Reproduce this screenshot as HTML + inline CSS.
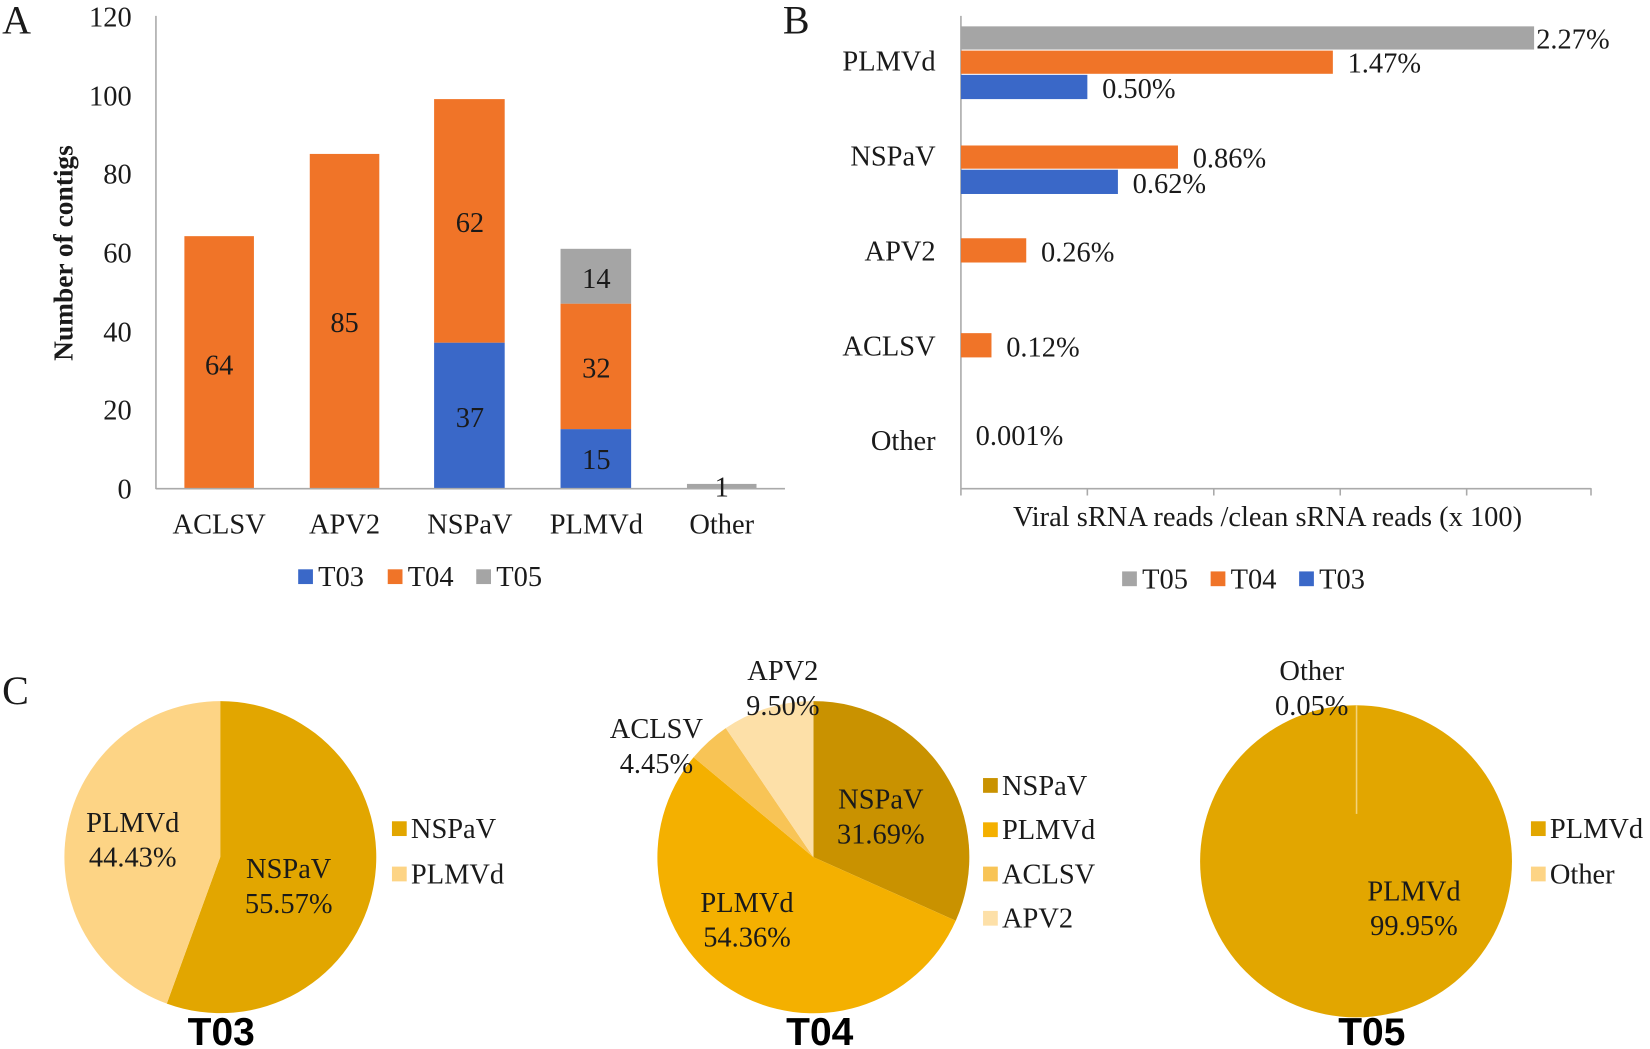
<!DOCTYPE html>
<html><head><meta charset="utf-8"><style>
html,body{margin:0;padding:0;background:#fff}
svg{display:block}
text{font-family:"Liberation Serif",serif;fill:#1a1a1a}
.s{font-family:"Liberation Sans",sans-serif;font-weight:bold;fill:#000}
</style></head><body>
<svg width="1650" height="1049" viewBox="0 0 1566 995" preserveAspectRatio="none" xmlns="http://www.w3.org/2000/svg">
<!-- Panel A -->
<text x="2" y="32" font-size="38">A</text>
<g font-size="27" text-anchor="end">
<text x="125" y="25">120</text><text x="125" y="100">100</text><text x="125" y="174">80</text>
<text x="125" y="249">60</text><text x="125" y="324">40</text><text x="125" y="398">20</text><text x="125" y="473">0</text>
</g>
<text transform="translate(69,240) rotate(-90)" font-size="26" font-weight="bold" text-anchor="middle" fill="#000">Number of contigs</text>
<line x1="148" y1="15" x2="148" y2="464" stroke="#aaa" stroke-width="1.5"/>
<rect x="175" y="224" width="66" height="239" fill="#F07428"/>
<rect x="294" y="146" width="66" height="317" fill="#F07428"/>
<rect x="412" y="325" width="67" height="138" fill="#3A68C8"/>
<rect x="412" y="94" width="67" height="231" fill="#F07428"/>
<rect x="532" y="407" width="67" height="56" fill="#3A68C8"/>
<rect x="532" y="288" width="67" height="119" fill="#F07428"/>
<rect x="532" y="236" width="67" height="52" fill="#A5A5A5"/>
<rect x="652" y="459" width="66" height="4" fill="#A5A5A5"/>
<line x1="148" y1="463.5" x2="745" y2="463.5" stroke="#aaa" stroke-width="1.5"/>
<g font-size="27" text-anchor="middle">
<text x="208" y="355">64</text><text x="327" y="315">85</text><text x="446" y="220">62</text>
<text x="446" y="405">37</text><text x="566" y="273">14</text><text x="566" y="358">32</text>
<text x="566" y="445">15</text><text x="685" y="471">1</text>
<text x="208" y="506">ACLSV</text><text x="327" y="506">APV2</text><text x="446" y="506">NSPaV</text>
<text x="566" y="506">PLMVd</text><text x="685" y="506">Other</text>
</g>
<rect x="283" y="540" width="14" height="14" fill="#3A68C8"/><text x="302" y="556" font-size="27">T03</text>
<rect x="368" y="540" width="14" height="14" fill="#F07428"/><text x="387" y="556" font-size="27">T04</text>
<rect x="452" y="540" width="14" height="14" fill="#A5A5A5"/><text x="471" y="556" font-size="27">T05</text>

<!-- Panel B -->
<text x="743" y="32" font-size="38">B</text>
<line x1="912" y1="15" x2="912" y2="470" stroke="#aaa" stroke-width="1.5"/>
<line x1="912" y1="463.5" x2="1510" y2="463.5" stroke="#aaa" stroke-width="1.5"/>
<g stroke="#aaa" stroke-width="1.5">
<line x1="1032" y1="463" x2="1032" y2="470"/><line x1="1152" y1="463" x2="1152" y2="470"/>
<line x1="1272" y1="463" x2="1272" y2="470"/><line x1="1392" y1="463" x2="1392" y2="470"/>
<line x1="1510" y1="463" x2="1510" y2="470"/>
</g>
<rect x="912" y="25" width="544" height="22" fill="#A5A5A5"/>
<rect x="912" y="48" width="353" height="22" fill="#F07428"/>
<rect x="912" y="71" width="120" height="23" fill="#3A68C8"/>
<rect x="912" y="138" width="206" height="22" fill="#F07428"/>
<rect x="912" y="161" width="149" height="23" fill="#3A68C8"/>
<rect x="912" y="226" width="62" height="23" fill="#F07428"/>
<rect x="912" y="316" width="29" height="23" fill="#F07428"/>
<g font-size="27">
<text x="1458" y="46">2.27%</text><text x="1279" y="69">1.47%</text><text x="1046" y="93">0.50%</text>
<text x="1132" y="159">0.86%</text><text x="1075" y="183">0.62%</text><text x="988" y="248">0.26%</text>
<text x="955" y="338">0.12%</text><text x="926" y="422">0.001%</text>
</g>
<g font-size="27" text-anchor="end">
<text x="888" y="67">PLMVd</text><text x="888" y="157">NSPaV</text><text x="888" y="247">APV2</text>
<text x="888" y="337">ACLSV</text><text x="888" y="427">Other</text>
</g>
<text x="1203" y="499" font-size="27" text-anchor="middle">Viral sRNA reads /clean sRNA  reads (x 100)</text>
<rect x="1065" y="542" width="14" height="14" fill="#A5A5A5"/><text x="1084" y="558" font-size="27">T05</text>
<rect x="1149" y="542" width="14" height="14" fill="#F07428"/><text x="1168" y="558" font-size="27">T04</text>
<rect x="1233" y="542" width="14" height="14" fill="#3A68C8"/><text x="1252" y="558" font-size="27">T03</text>

<!-- Panel C -->
<text x="2" y="668" font-size="38">C</text>
<!-- T03 -->
<path d="M209,813 L209,665 A148,148 0 1 1 158.3,952 Z" fill="#E2A600"/>
<path d="M209,813 L158.3,952 A148,148 0 0 1 209,665 Z" fill="#FDD485"/>
<g font-size="27" text-anchor="middle">
<text x="126" y="789">PLMVd</text><text x="126" y="822">44.43%</text>
<text x="274" y="833">NSPaV</text><text x="274" y="866">55.57%</text>
</g>
<rect x="372" y="779" width="14" height="14" fill="#E2A600"/><text x="390" y="795" font-size="27">NSPaV</text>
<rect x="372" y="822" width="14" height="14" fill="#FDD485"/><text x="390" y="838" font-size="27">PLMVd</text>
<text x="210" y="991" class="s" font-size="37" text-anchor="middle">T03</text>
<!-- T04 -->
<path d="M772,813 L772,665 A148,148 0 0 1 907.1,873.4 Z" fill="#C99200"/>
<path d="M772,813 L907.1,873.4 A148,148 0 1 1 658.3,718.3 Z" fill="#F4B000"/>
<path d="M772,813 L658.3,718.3 A148,148 0 0 1 688.8,690.6 Z" fill="#F8C456"/>
<path d="M772,813 L688.8,690.6 A148,148 0 0 1 772,665 Z" fill="#FDE0A8"/>
<g font-size="27" text-anchor="middle">
<text x="836" y="767">NSPaV</text><text x="836" y="800">31.69%</text>
<text x="709" y="865">PLMVd</text><text x="709" y="898">54.36%</text>
<text x="623" y="700">ACLSV</text><text x="623" y="733">4.45%</text>
<text x="743" y="645">APV2</text><text x="743" y="678">9.50%</text>
</g>
<rect x="933" y="738" width="14" height="14" fill="#C99200"/><text x="951" y="754" font-size="27">NSPaV</text>
<rect x="933" y="780" width="14" height="14" fill="#F4B000"/><text x="951" y="796" font-size="27">PLMVd</text>
<rect x="933" y="822" width="14" height="14" fill="#F8C456"/><text x="951" y="838" font-size="27">ACLSV</text>
<rect x="933" y="864" width="14" height="14" fill="#FDE0A8"/><text x="951" y="880" font-size="27">APV2</text>
<text x="778" y="991" class="s" font-size="37" text-anchor="middle">T04</text>
<!-- T05 -->
<circle cx="1287" cy="817" r="148" fill="#E2A600"/>
<line x1="1287.5" y1="669" x2="1287.5" y2="772" stroke="#F3D27A" stroke-width="1.5"/>
<g font-size="27" text-anchor="middle">
<text x="1245" y="645">Other</text><text x="1245" y="678">0.05%</text>
<text x="1342" y="854">PLMVd</text><text x="1342" y="887">99.95%</text>
</g>
<rect x="1453" y="779" width="14" height="14" fill="#E2A600"/><text x="1471" y="795" font-size="27">PLMVd</text>
<rect x="1453" y="822" width="14" height="14" fill="#FDD485"/><text x="1471" y="838" font-size="27">Other</text>
<text x="1302" y="991" class="s" font-size="37" text-anchor="middle">T05</text>
</svg>
</body></html>
